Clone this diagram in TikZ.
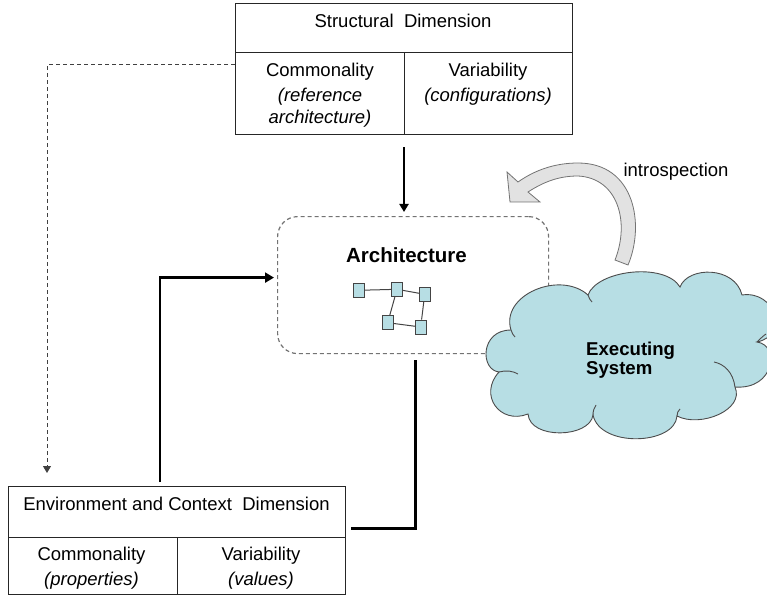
\documentclass[tikz,border=0pt]{standalone}
\usepackage{fontspec}
\setmainfont{Liberation Sans}
\usetikzlibrary{arrows.meta}
\definecolor{cloudblue}{HTML}{B7DEE4}
\definecolor{arrowgray}{HTML}{E2E2E2}
\definecolor{edgegray}{HTML}{444444}
\begin{document}
\begin{tikzpicture}[x=1bp,y=-1bp,
  txt/.style={inner sep=0, font=\fontsize{18.5bp}{22bp}\selectfont, anchor=base},
  itxt/.style={txt, font=\fontsize{18.5bp}{22bp}\selectfont\itshape},
  btxt/.style={txt, font=\fontsize{20.5bp}{24bp}\selectfont\bfseries},
  dimbox/.style={draw=black!85, line width=1bp, inner sep=0, anchor=north west},
  archbox/.style={draw=black!55, line width=1.2bp, dash pattern=on 4bp off 3bp, rounded corners=20bp, inner sep=0, anchor=north west},
  sq/.style={draw=edgegray, fill=cloudblue, line width=0.8bp, minimum width=10.5bp, minimum height=14bp, inner sep=0},
  sqedge/.style={draw=edgegray, line width=1bp},
  thickarr/.style={line width=2.6bp, -{Triangle[length=9bp,width=10bp]}},
  thickline/.style={line width=2.6bp},
  downarr/.style={line width=2bp, -{Triangle[length=8bp,width=9bp]}},
  dasharr/.style={draw=black!75, line width=1bp, dash pattern=on 4bp off 3bp, -{Triangle[length=7bp,width=8bp]}},
  cloudline/.style={draw=black!70, line width=0.9bp}
]
\useasboundingbox (0,0) rectangle (767,596);
\clip (0,0) rectangle (767,596);

% Structural dimension box
\node[dimbox, minimum width=337bp, minimum height=131bp] (sbox) at (235,3) {};
\draw[line width=1bp, black!85] ([yshift=-50bp]sbox.north west) -- ([yshift=-50bp]sbox.north east);
\draw[line width=1bp, black!85] ([xshift=169bp,yshift=-50bp]sbox.north west) -- ([xshift=169bp]sbox.south west);
\node[txt] (stitle) at (403,28) {Structural\ \ Dimension};
\node[txt] (scom) at (320,77) {Commonality};
\node[itxt] (scom2) at (320,102) {(reference};
\node[itxt] (scom3) at (320,124) {architecture)};
\node[txt] (svar) at (488,77) {Variability};
\node[itxt] (svar2) at (488,102) {(configurations)};

% Environment and context box
\node[dimbox, minimum width=337bp, minimum height=108bp] (ebox) at (8,486) {};
\draw[line width=1bp, black!85] ([yshift=-51bp]ebox.north west) -- ([yshift=-51bp]ebox.north east);
\draw[line width=1bp, black!85] ([xshift=169bp,yshift=-51bp]ebox.north west) -- ([xshift=169bp]ebox.south west);
\node[txt] (etitle) at (176.5,510) {Environment and Context\ \ Dimension};
\node[txt] (ecom) at (91.5,560) {Commonality};
\node[itxt] (ecom2) at (91.5,585) {(properties)};
\node[txt] (evar) at (261,560) {Variability};
\node[itxt] (evar2) at (261,585) {(values)};

% Architecture box
\node[archbox, minimum width=271bp, minimum height=137bp] (arch) at (277,216) {};
\node[btxt] (archtitle) at (406.5,262) {Architecture};
\node[sq] (q1) at (358.7,290.3) {};
\node[sq] (q2) at (397,289.3) {};
\node[sq] (q3) at (424.7,294.3) {};
\node[sq] (q4) at (387.7,322.7) {};
\node[sq] (q5) at (420.7,327) {};
\draw[sqedge] (q1) -- (q2);
\draw[sqedge] (q2) -- (q3);
\draw[sqedge] (q2) -- (q4);
\draw[sqedge] (q3) -- (q5);
\draw[sqedge] (q4) -- (q5);

% Cloud (executing system)
\draw[cloudline, fill=cloudblue]
  (511,330) .. controls (500,295) and (560,270) .. (588,295)
  .. controls (597,270) and (665,262) .. (680,287)
  .. controls (688,266) and (735,266) .. (742,295)
  .. controls (775,290) and (790,335) .. (757,342)
  .. controls (780,345) and (775,390) .. (735,387)
  .. controls (745,410) and (700,428) .. (677,416)
  .. controls (675,445) and (600,448) .. (593,415)
  .. controls (590,438) and (530,440) .. (528,414)
  .. controls (500,425) and (478,395) .. (499,372)
  .. controls (480,370) and (480,330) .. (511,330) -- cycle;
\draw[cloudline] (499,372) .. controls (506,370) and (513,371) .. (518,374);
\draw[cloudline] (735,387) .. controls (733,372) and (724,364) .. (714,362);
\draw[cloudline] (757,342) .. controls (760,339) and (763,336) .. (766,334);
\draw[cloudline] (593,415) .. controls (593,411) and (594,408) .. (596,405);
\draw[cloudline] (677,416) .. controls (677,413) and (678,411) .. (680,409);
\draw[cloudline] (588,295) .. controls (589,298) and (590,300) .. (592,302);
\draw[cloudline] (511,330) .. controls (512,333) and (513,335) .. (515,337);
\node[txt, font=\fontsize{18.6bp}{20bp}\selectfont\bfseries, anchor=base west] (exec1) at (586,355) {Executing};
\node[txt, font=\fontsize{18.6bp}{20bp}\selectfont\bfseries, anchor=base west] (exec2) at (586,374) {System};

% Introspection arrow
\draw[fill=arrowgray, draw=black!55, line width=0.8bp, line join=miter]
  (628,265) .. controls (645,225) and (635,163) .. (578,163)
  .. controls (555,163) and (535,170) .. (518,182)
  -- (507,172) -- (510,202) -- (540,202) -- (528,192)
  .. controls (545,181) and (560,176) .. (578,176)
  .. controls (618,178) and (630,222) .. (615,260) -- cycle;
\node[txt] (intro) at (676,177) {introspection};

% Connectors
\draw[downarr, shorten <=12bp, shorten >=4bp] (sbox.south) -- (sbox.south |- arch.north);
\draw[dasharr] ([yshift=-62bp]sbox.north west) -| ([xshift=39bp,yshift=13bp]ebox.north west);
\draw[thickarr, shorten >=3bp] ([xshift=152bp,yshift=4bp]ebox.north west) |- ([yshift=7.5bp]arch.west);
\draw[thickline] ([xshift=2.5bp,yshift=-6bp]arch.south) |- ([xshift=5bp,yshift=12bp]ebox.east);
\end{tikzpicture}
\end{document}
